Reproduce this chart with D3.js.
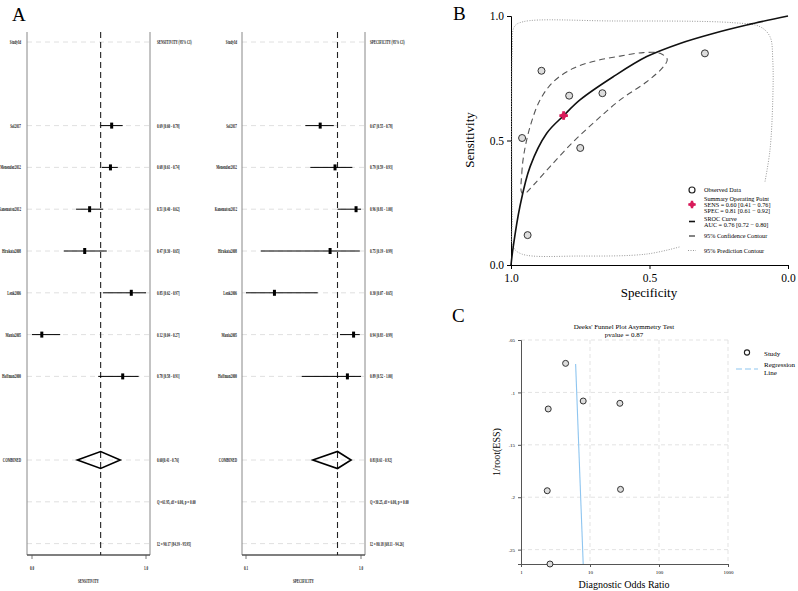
<!DOCTYPE html>
<html>
<head>
<script src="https://d3js.org/d3.v7.min.js"></script>
<style>
  body { margin: 0; background: #fff; }
  svg { font-family: "Liberation Serif", serif; }
</style>
</head>
<body>
<div id="chart"></div>
<script>
// ---- panel A data ----
const studies = ["Sol2017", "Menendez2012", "Kanematsu2012", "Hirakata2008", "Lenk2006", "Mania2005", "Hoffman2000"];
const sens = [0.69, 0.68, 0.51, 0.47, 0.85, 0.12, 0.78];
const sensLo = [0.60, 0.61, 0.40, 0.30, 0.62, 0.04, 0.58];
const sensHi = [0.78, 0.74, 0.62, 0.65, 0.97, 0.27, 0.91];
const spec = [0.67, 0.79, 0.96, 0.75, 0.30, 0.94, 0.89];
const specLo = [0.55, 0.59, 0.81, 0.19, 0.07, 0.83, 0.52];
const specHi = [0.78, 0.93, 1.00, 0.99, 0.65, 0.99, 1.00];
const sensCombined = [0.60, 0.41, 0.76];
const specCombined = [0.81, 0.61, 0.92];
const sensStats = ["Q =61.95, df = 6.00, p = 0.00", "I2 = 90.17 [84.39 - 95.95]"];
const specStats = ["Q =30.25, df = 6.00, p = 0.00", "I2 = 80.18 [68.11 - 94.26]"];
const sensTicks = [0.04, 0.97], sensTickLabels = ["0.0", "1.0"];
const specTicks = [0.07, 1.00], specTickLabels = ["0.1", "1.0"];

// ---- panel B data ----
const srocSpec = [1.0, 0.992, 0.968, 0.931, 0.871, 0.81, 0.751, 0.631, 0.51, 0.39, 0.27, 0.149, 0.0];
const srocSens = [0.0, 0.073, 0.234, 0.395, 0.529, 0.60, 0.663, 0.756, 0.837, 0.89, 0.93, 0.964, 1.0];
const confSpec = [0.961, 0.961, 0.953, 0.931, 0.895, 0.847, 0.775, 0.691, 0.606, 0.522, 0.462, 0.436, 0.45, 0.51, 0.606, 0.691, 0.775, 0.859, 0.919, 0.949];
const confSens = [0.290, 0.368, 0.448, 0.556, 0.663, 0.736, 0.79, 0.821, 0.839, 0.853, 0.850, 0.826, 0.796, 0.736, 0.663, 0.582, 0.495, 0.395, 0.321, 0.288];
const predSpec = [0.083, 0.065, 0.055, 0.055, 0.065, 0.101, 0.197, 0.631, 0.956, 0.988, 0.995, 0.995, 0.992, 0.961, 0.751, 0.51, 0.39];
const predSens = [0.335, 0.462, 0.663, 0.823, 0.917, 0.957, 0.973, 0.98, 0.977, 0.957, 0.863, 0.194, 0.073, 0.044, 0.036, 0.044, 0.073];
const summaryPoint = [0.81, 0.60];

// ---- panel C data ----
const dor = [4.43, 7.97, 27.1, 2.48, 27.7, 2.40, 2.63];
const invEss = [0.0723, 0.1082, 0.1104, 0.1158, 0.1925, 0.1938, 0.2637];
const regDor = [6.19, 7.97];
const regY = [0.0729, 0.2637];
const cYTicks = [0.05, 0.1, 0.15, 0.2, 0.25], cYTickLabels = [".05", ".1", ".15", ".2", ".25"];
const cXTicks = [1, 10, 100, 1000];

const W = 798, H = 591;
const svg = d3.select("#chart").append("svg").attr("width", W).attr("height", H);

// panel letters
[["A", 12, 21], ["B", 453, 20], ["C", 452, 322]].forEach(d => {
  svg.append("text").attr("x", d[1]).attr("y", d[2]).style("font-size", "19px").text(d[0]);
});

// ================= Panel A =================
const rowY = d3.scaleLinear().domain([0, 12]).range([42, 543.6]);
function small(x, y, str, anchor) {
  return svg.append("text")
    .attr("transform", `translate(${x},${y}) scale(0.5,1)`)
    .attr("text-anchor", anchor || "start")
    .style("font-size", "6.5px")
    .style("font-weight", "bold")
    .attr("fill", "#222")
    .text(str);
}
function forest(opt) {
  const x = d3.scaleLinear().domain(opt.domain).range(opt.range);
  const top = 32, bottom = 555;
  // row grid lines
  [0, 2, 3, 4, 5, 6, 7, 8, 10, 11, 12].forEach(i => {
    svg.append("line").attr("x1", opt.frame[0]).attr("x2", opt.frame[1])
      .attr("y1", rowY(i)).attr("y2", rowY(i))
      .attr("stroke", "#d8d8d8").attr("stroke-width", 0.8).attr("stroke-dasharray", "5,4");
  });
  // frame
  opt.frame.forEach(fx => {
    svg.append("line").attr("x1", fx).attr("x2", fx).attr("y1", top).attr("y2", bottom)
      .attr("stroke", "#888").attr("stroke-width", 1);
  });
  svg.append("line").attr("x1", opt.frame[0]).attr("x2", opt.frame[1])
    .attr("y1", bottom).attr("y2", bottom).attr("stroke", "#555").attr("stroke-width", 1.5);
  opt.ticks.forEach((t, i) => {
    svg.append("line").attr("x1", x(t)).attr("x2", x(t)).attr("y1", bottom).attr("y2", bottom + 4)
      .attr("stroke", "#555").attr("stroke-width", 0.8);
    small(x(t), bottom + 15, opt.tickLabels[i], "middle");
  });
  small((opt.frame[0] + opt.frame[1]) / 2, 583, opt.title, "middle");
  // combined dashed line
  svg.append("line").attr("x1", x(opt.combined[0])).attr("x2", x(opt.combined[0]))
    .attr("y1", top).attr("y2", bottom)
    .attr("stroke", "#222").attr("stroke-width", 1.1).attr("stroke-dasharray", "6,4");
  // header row
  small(opt.labelX, rowY(0) + 2, "StudyId", "end");
  small(opt.valueX, rowY(0) + 2, opt.header, "start");
  // studies
  studies.forEach((s, i) => {
    const y = rowY(i + 2);
    small(opt.labelX, y + 2, s, "end");
    svg.append("line").attr("x1", x(opt.lo[i])).attr("x2", x(opt.hi[i])).attr("y1", y).attr("y2", y)
      .attr("stroke", "#000").attr("stroke-width", 1);
    svg.append("rect").attr("x", x(opt.est[i]) - 1.5).attr("y", y - 3).attr("width", 3).attr("height", 6)
      .attr("fill", "#000");
    small(opt.valueX, y + 2, `${opt.est[i].toFixed(2)} [${opt.lo[i].toFixed(2)} - ${opt.hi[i].toFixed(2)}]`, "start");
  });
  // combined diamond
  const yc = rowY(10), c = opt.combined;
  svg.append("path")
    .attr("d", `M${x(c[1])},${yc} L${x(c[0])},${yc - 8.5} L${x(c[2])},${yc} L${x(c[0])},${yc + 8.5} Z`)
    .attr("fill", "none").attr("stroke", "#000").attr("stroke-width", 1.6);
  small(opt.labelX, yc + 2, "COMBINED", "end");
  small(opt.valueX, yc + 2, `${c[0].toFixed(2)}[${c[1].toFixed(2)} - ${c[2].toFixed(2)}]`, "start");
  small(opt.valueX, rowY(11) + 2, opt.stats[0], "start");
  small(opt.valueX, rowY(12) + 2, opt.stats[1], "start");
}
forest({ domain: [0.04, 0.97], range: [32, 146], frame: [27, 150], labelX: 21, valueX: 157,
  est: sens, lo: sensLo, hi: sensHi, combined: sensCombined, stats: sensStats,
  ticks: sensTicks, tickLabels: sensTickLabels, title: "SENSITIVITY", header: "SENSITIVITY (95% CI)" });
forest({ domain: [0.07, 1.00], range: [246, 361], frame: [242, 365], labelX: 237, valueX: 370,
  est: spec, lo: specLo, hi: specHi, combined: specCombined, stats: specStats,
  ticks: specTicks, tickLabels: specTickLabels, title: "SPECIFICITY", header: "SPECIFICITY (95% CI)" });

// ================= Panel B =================
const bx = d3.scaleLinear().domain([1, 0]).range([511, 788]);
const by = d3.scaleLinear().domain([0, 1]).range([265, 16]);
const gB = svg.append("g");
gB.append("g").attr("transform", "translate(0,265)")
  .call(d3.axisBottom(bx).tickValues([1, 0.5, 0]).tickFormat(d3.format(".1f")).tickSize(4))
  .call(g => g.selectAll("text").style("font-size", "11.5px").style("font-family", "Liberation Serif").attr("dy", "0.9em"));
gB.append("g").attr("transform", "translate(511,0)")
  .call(d3.axisLeft(by).tickValues([0, 0.5, 1]).tickFormat(d3.format(".1f")).tickSize(4))
  .call(g => g.selectAll("text").style("font-size", "11.5px").style("font-family", "Liberation Serif"));
gB.selectAll(".domain").attr("stroke", "#000");
gB.append("text").attr("x", 649).attr("y", 297).attr("text-anchor", "middle").style("font-size", "13px").text("Specificity");
gB.append("text").attr("transform", "translate(474,140) rotate(-90)").attr("text-anchor", "middle")
  .style("font-size", "13px").text("Sensitivity");

const predPts = predSpec.map((s, i) => [bx(s), by(predSens[i])]);
gB.append("path").attr("d", d3.line().curve(d3.curveCatmullRom)(predPts))
  .attr("fill", "none").attr("stroke", "#999").attr("stroke-width", 1).attr("stroke-dasharray", "1,1.5");
const confPts = confSpec.map((s, i) => [bx(s), by(confSens[i])]);
gB.append("path").attr("d", d3.line().curve(d3.curveCatmullRomClosed)(confPts))
  .attr("fill", "none").attr("stroke", "#555").attr("stroke-width", 1.1).attr("stroke-dasharray", "6,4");
const srocPts = srocSpec.map((s, i) => [bx(s), by(srocSens[i])]);
gB.append("path").attr("d", d3.line().curve(d3.curveCatmullRom)(srocPts))
  .attr("fill", "none").attr("stroke", "#111").attr("stroke-width", 1.6);
spec.forEach((s, i) => {
  gB.append("circle").attr("cx", bx(s)).attr("cy", by(sens[i])).attr("r", 3.5)
    .attr("fill", "#ddd").attr("stroke", "#333").attr("stroke-width", 1);
});
const diamond = d3.symbol().type(d3.symbolDiamond2).size(40);
gB.append("path").attr("d", d3.symbol().type(d3.symbolCross).size(40)())
  .attr("transform", `translate(${bx(summaryPoint[0])},${by(summaryPoint[1])})`).attr("fill", "#d81b5a");
gB.append("path").attr("d", diamond())
  .attr("transform", `translate(${bx(summaryPoint[0])},${by(summaryPoint[1])})`).attr("fill", "#d81b5a");

// legend B
const lgB = gB.append("g").style("font-size", "6.2px");
lgB.append("circle").attr("cx", 692).attr("cy", 190).attr("r", 3).attr("fill", "none").attr("stroke", "#222").attr("stroke-width", 1.2);
lgB.append("text").attr("x", 704).attr("y", 192).text("Observed Data");
lgB.append("path").attr("d", d3.symbol().type(d3.symbolCross).size(30)()).attr("transform", "translate(692,204.5)").attr("fill", "#d81b5a");
lgB.append("path").attr("d", diamond.size(30)()).attr("transform", "translate(692,204.5)").attr("fill", "#d81b5a");
["Summary Operating Point", "SENS = 0.60 [0.41 \u2212 0.76]", "SPEC = 0.81 [0.61 \u2212 0.92]"].forEach((t, i) => {
  lgB.append("text").attr("x", 704).attr("y", 201 + i * 6).text(t);
});
lgB.append("line").attr("x1", 689).attr("x2", 695).attr("y1", 221.5).attr("y2", 221.5).attr("stroke", "#111").attr("stroke-width", 1.6);
lgB.append("text").attr("x", 704).attr("y", 221).text("SROC Curve");
lgB.append("text").attr("x", 704).attr("y", 227).text("AUC = 0.76 [0.72 \u2212 0.80]");
lgB.append("line").attr("x1", 689).attr("x2", 695).attr("y1", 236).attr("y2", 236).attr("stroke", "#333").attr("stroke-width", 1.2);
lgB.append("text").attr("x", 704).attr("y", 238).text("95% Confidence Contour");
lgB.append("line").attr("x1", 688).attr("x2", 696).attr("y1", 250.5).attr("y2", 250.5).attr("stroke", "#999").attr("stroke-dasharray", "1,1.5");
lgB.append("text").attr("x", 704).attr("y", 252.5).text("95% Prediction Contour");

// ================= Panel C =================
const cx = d3.scaleLog().domain([1, 1000]).range([521, 728]);
const cy = d3.scaleLinear().domain([0.05, 0.2637]).range([340, 564]);
const gC = svg.append("g");
cYTicks.forEach(t => {
  gC.append("line").attr("x1", 521).attr("x2", 728).attr("y1", cy(t)).attr("y2", cy(t))
    .attr("stroke", "#e3e3e3").attr("stroke-dasharray", "4,3");
});
cXTicks.slice(1).forEach(t => {
  gC.append("line").attr("x1", cx(t)).attr("x2", cx(t)).attr("y1", 340).attr("y2", 564)
    .attr("stroke", "#e3e3e3").attr("stroke-dasharray", "4,3");
});
gC.append("g").attr("transform", "translate(0,564)")
  .call(d3.axisBottom(cx).tickValues(cXTicks).tickFormat(d3.format("d")).tickSize(3))
  .call(g => g.selectAll("text").style("font-size", "5px").style("font-family", "Liberation Serif"));
gC.append("g").attr("transform", "translate(521,0)")
  .call(d3.axisLeft(cy).tickValues(cYTicks).tickFormat((d, i) => cYTickLabels[i]).tickSize(3))
  .call(g => g.selectAll("text").style("font-size", "5px").style("font-family", "Liberation Serif"));
gC.selectAll(".domain").attr("stroke", "#555");
gC.selectAll(".tick line").attr("stroke", "#555");
gC.append("text").attr("x", 624).attr("y", 329).attr("text-anchor", "middle").style("font-size", "7px").text("Deeks' Funnel Plot Asymmetry Test");
gC.append("text").attr("x", 624).attr("y", 336.5).attr("text-anchor", "middle").style("font-size", "7px").text("pvalue  =   0.87");
gC.append("text").attr("x", 624).attr("y", 588).attr("text-anchor", "middle").style("font-size", "10px").text("Diagnostic Odds Ratio");
gC.append("text").attr("transform", "translate(500,452) rotate(-90)").attr("text-anchor", "middle")
  .style("font-size", "10px").text("1/root(ESS)");
gC.append("line").attr("x1", cx(regDor[0])).attr("x2", cx(regDor[1])).attr("y1", cy(regY[0])).attr("y2", cy(regY[1]))
  .attr("stroke", "#8ec5f0").attr("stroke-width", 1.1);
dor.forEach((d, i) => {
  gC.append("circle").attr("cx", cx(d)).attr("cy", cy(invEss[i])).attr("r", 3)
    .attr("fill", "#ddd").attr("stroke", "#333").attr("stroke-width", 1);
});
const lgC = gC.append("g").style("font-size", "7px");
lgC.append("circle").attr("cx", 747).attr("cy", 352.5).attr("r", 2.6).attr("fill", "none").attr("stroke", "#222").attr("stroke-width", 1.1);
lgC.append("text").attr("x", 764).attr("y", 355.5).text("Study");
lgC.append("line").attr("x1", 736).attr("x2", 758).attr("y1", 369).attr("y2", 369)
  .attr("stroke", "#8ec5f0").attr("stroke-width", 1.1).attr("stroke-dasharray", "6,3");
lgC.append("text").attr("x", 764).attr("y", 367).text("Regression");
lgC.append("text").attr("x", 764).attr("y", 375).text("Line");
</script>
</body>
</html>
